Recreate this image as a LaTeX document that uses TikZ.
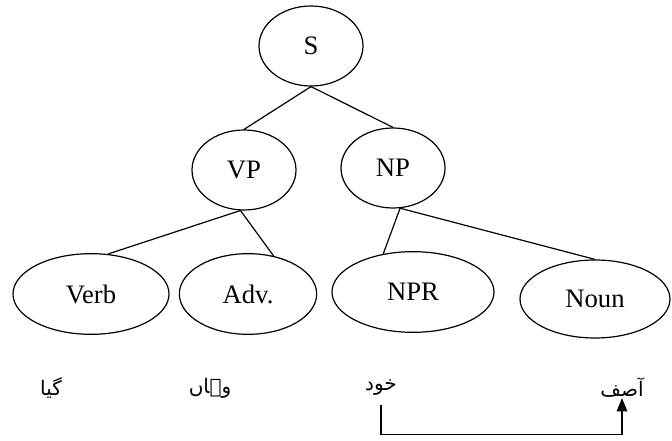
\documentclass[tikz,border=0pt]{standalone}
\usepackage{fontspec}
\setmainfont{Liberation Serif}
\newfontfamily\urdufont[Script=Arabic]{DejaVu Sans}
\TeXXeTstate=1
\usetikzlibrary{shapes.geometric, arrows.meta}

\begin{document}
\begin{tikzpicture}[x=0.75pt, y=-0.75pt, every node/.style={font=\fontsize{20}{24}\selectfont}]

\tikzstyle{phrase} = [ellipse, draw=black, line width=0.9pt, inner sep=0pt, minimum width=78pt, minimum height=60pt]
\tikzstyle{tag} = [ellipse, draw=black, line width=0.9pt, inner sep=0pt, minimum height=60.5pt]
\tikzstyle{word} = [inner sep=1pt, font=\urdufont\fontsize{15}{17}\selectfont]
\tikzstyle{branch} = [line width=0.9pt]
\tikzstyle{arrow} = [line width=0.9pt, -{Triangle[width=8pt,length=10pt]}]

\useasboundingbox (0,0) rectangle (672,441);

% Nodes
\node (s) [phrase] at (311,46) {S};
\node (vp) [phrase] at (244,170) {VP};
\node (np) [phrase] at (393,168) {NP};
\node (verb) [tag, minimum width=117pt] at (91,294) {Verb};
\node (adv) [tag, minimum width=103pt] at (248,294) {Adv.};
\node (npr) [tag, minimum width=121.5pt] at (413,292) {NPR};
\node (noun) [tag, minimum width=112.5pt, minimum height=58.5pt] at (595,299) {Noun};

% Words under the tree
\node (gaya) [word] at (51,388) {\beginR گیا\endR};
\node (wahan) [word] at (210,388) {\beginR وہاں\endR};
\node (khud) [word] at (381,388) {\beginR خود\endR};
\node (asif) [word] at (622,388) {\beginR آصف\endR};

% Arrow corner below khud
\coordinate (bend) at ([yshift=-28pt]khud.south);

% Branches
\draw [branch] (s.south) -- (vp.north);
\draw [branch] (s.south) -- (np.north);
\draw [branch] (vp.265) -- (verb.67);
\draw [branch] (vp.265) -- (adv.56);
\draw [branch] (np.280) -- (npr.128);
\draw [branch] (np.280) -- (noun.north);

% Arrow
\draw [arrow] ([yshift=-6pt]khud.south) -- (bend) -| ([yshift=1pt]asif.south);

\end{tikzpicture}
\end{document}
